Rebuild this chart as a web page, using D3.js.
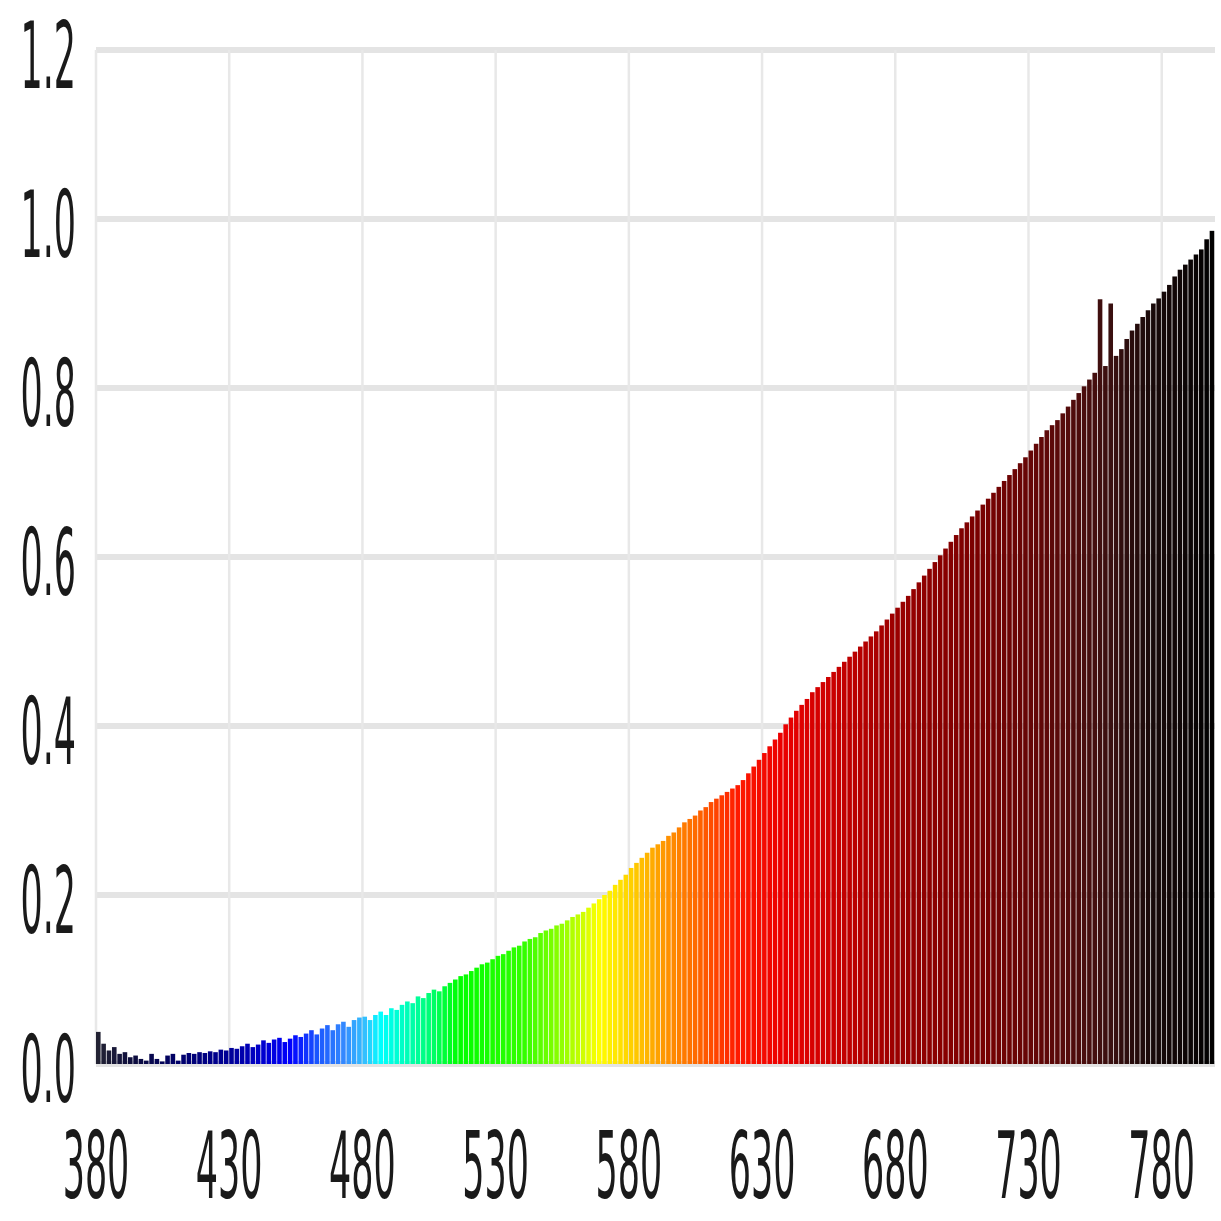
<!DOCTYPE html>
<html lang="en">
<head>
<meta charset="UTF-8">
<title>Spectrum</title>
<style>
  html, body { margin: 0; padding: 0; background: #fff; }
  svg { display: block; }
  .tick-label { font-family: "DejaVu Sans", Verdana, sans-serif; font-size: 92px; fill: #1a1a1a; }
</style>
</head>
<body>
<div id="chart"></div>
<script src="https://cdnjs.cloudflare.com/ajax/libs/d3/7.8.5/d3.min.js"></script>
<script>
// wavelengths (nm), one bar every 2 nm, 380 .. 798
const wlStart = 380, wlStep = 2;
const values = [
  0.038, 0.024, 0.016, 0.020, 0.012, 0.014, 0.008, 0.010, 0.006, 0.004, // 380
  0.012, 0.006, 0.003, 0.010, 0.012, 0.004, 0.011, 0.013, 0.012, 0.014, // 400
  0.013, 0.015, 0.014, 0.017, 0.016, 0.019, 0.018, 0.021, 0.024, 0.020, // 420
  0.023, 0.028, 0.025, 0.029, 0.031, 0.026, 0.030, 0.034, 0.032, 0.036, // 440
  0.040, 0.035, 0.042, 0.046, 0.040, 0.047, 0.050, 0.044, 0.052, 0.055, // 460
  0.056, 0.052, 0.058, 0.062, 0.058, 0.066, 0.064, 0.070, 0.074, 0.072, // 480
  0.080, 0.078, 0.084, 0.088, 0.086, 0.092, 0.096, 0.100, 0.104, 0.106, // 500
  0.110, 0.114, 0.118, 0.120, 0.124, 0.128, 0.130, 0.134, 0.138, 0.140, // 520
  0.145, 0.148, 0.150, 0.155, 0.158, 0.160, 0.164, 0.166, 0.170, 0.174, // 540
  0.177, 0.180, 0.185, 0.190, 0.195, 0.200, 0.205, 0.212, 0.218, 0.224, // 560
  0.232, 0.238, 0.244, 0.250, 0.256, 0.260, 0.264, 0.270, 0.274, 0.280, // 580
  0.286, 0.290, 0.294, 0.300, 0.304, 0.310, 0.314, 0.318, 0.322, 0.326, // 600
  0.330, 0.336, 0.344, 0.352, 0.360, 0.368, 0.376, 0.384, 0.392, 0.402, // 620
  0.410, 0.418, 0.425, 0.432, 0.440, 0.446, 0.452, 0.458, 0.464, 0.470, // 640
  0.476, 0.482, 0.488, 0.494, 0.500, 0.506, 0.512, 0.519, 0.526, 0.533, // 660
  0.540, 0.547, 0.554, 0.562, 0.570, 0.578, 0.586, 0.594, 0.602, 0.610, // 680
  0.618, 0.626, 0.634, 0.641, 0.648, 0.655, 0.662, 0.669, 0.676, 0.683, // 700
  0.690, 0.697, 0.704, 0.711, 0.718, 0.726, 0.734, 0.742, 0.750, 0.756, // 720
  0.762, 0.770, 0.778, 0.786, 0.794, 0.802, 0.810, 0.818, 0.905, 0.826, // 740
  0.900, 0.838, 0.846, 0.858, 0.868, 0.876, 0.884, 0.892, 0.900, 0.906, // 760
  0.914, 0.922, 0.932, 0.940, 0.946, 0.952, 0.958, 0.964, 0.976, 0.986  // 780
];
const wavelengths = values.map((v, i) => wlStart + i * wlStep);

const xTicks = [380, 430, 480, 530, 580, 630, 680, 730, 780];
const yTicks = [0, 0.2, 0.4, 0.6, 0.8, 1.0, 1.2];

// colour stops along the spectrum
const colorStops = [380, 395, 410, 430, 445, 452, 462, 472, 480, 486, 495, 505, 515, 540, 555, 568, 580, 592, 605, 620, 635, 655, 680, 710, 740, 760, 775, 800];
const colorValues = ["#222233", "#0a0a40", "#00006a", "#00009a", "#0000dd", "#0000ff", "#1a55ff", "#3388ff", "#33c0ff", "#00ffff", "#00ffc0", "#00ff70", "#00ff00", "#33ff00", "#99ff00", "#ffff00", "#ffd000", "#ff9900", "#ff6600", "#ff1a00", "#ee0000", "#cc0000", "#9a0000", "#7a0000", "#5a0a0a", "#3a1010", "#1a0a0a", "#000000"];

const W = 1221, H = 1221;
const mLeft = 96, mRight = 1215, mTop = 50, mBottom = 1064;

const x = d3.scaleLinear().domain([380, 800]).range([mLeft, mRight]);
const y = d3.scaleLinear().domain([0, 1.2]).range([mBottom, mTop]);
const color = d3.scaleLinear().domain(colorStops).range(colorValues).interpolate(d3.interpolateRgb).clamp(true);

const svg = d3.select("#chart").append("svg")
    .attr("width", W)
    .attr("height", H);

// grid
svg.append("g").selectAll("line")
    .data(yTicks)
    .join("line")
    .attr("x1", mLeft).attr("x2", mRight)
    .attr("y1", d => y(d)).attr("y2", d => y(d))
    .attr("stroke", "#e4e4e4")
    .attr("stroke-width", 6);

svg.append("g").selectAll("line")
    .data(xTicks)
    .join("line")
    .attr("x1", d => x(d)).attr("x2", d => x(d))
    .attr("y1", mTop).attr("y2", mBottom)
    .attr("stroke", "#e8e8e8")
    .attr("stroke-width", 2.5);

// bars
const barW = (x(wlStart + wlStep) - x(wlStart)) * 0.86;
svg.append("g").selectAll("rect")
    .data(wavelengths)
    .join("rect")
    .attr("x", d => x(d))
    .attr("width", barW)
    .attr("y", (d, i) => y(values[i]))
    .attr("height", (d, i) => y(0) - y(values[i]))
    .attr("fill", d => color(d));

// tick labels (condensed)
const sx = 0.38;
svg.append("g").selectAll("text")
    .data(yTicks)
    .join("text")
    .attr("class", "tick-label")
    .attr("text-anchor", "end")
    .attr("transform", d => `translate(76, ${y(d) + 38}) scale(${sx},1)`)
    .text(d => d3.format(".1f")(d));

svg.append("g").selectAll("text")
    .data(xTicks)
    .join("text")
    .attr("class", "tick-label")
    .attr("text-anchor", "middle")
    .attr("transform", d => `translate(${x(d)}, 1198) scale(${sx},1)`)
    .text(d => d);
</script>
</body>
</html>
